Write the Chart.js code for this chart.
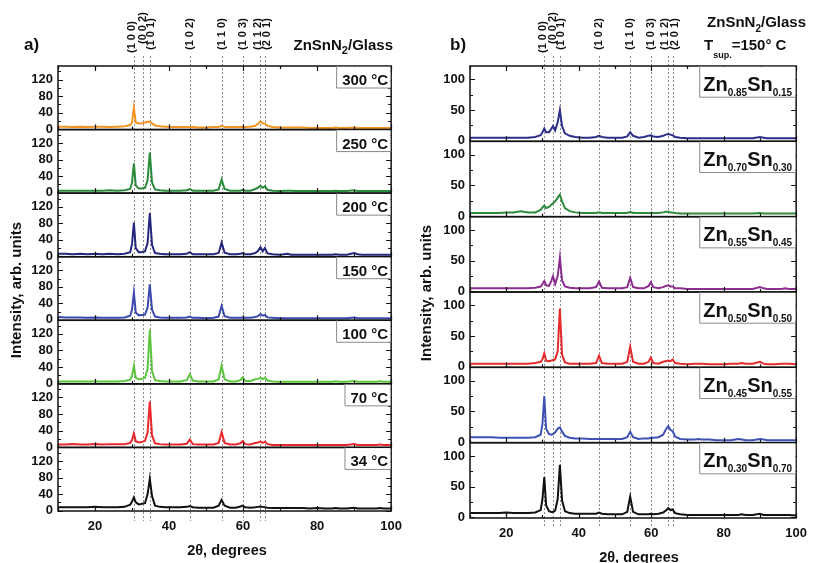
<!DOCTYPE html>
<html><head><meta charset="utf-8">
<script src="https://cdn.jsdelivr.net/npm/chart.js@4.4.1/dist/chart.umd.min.js"></script>
<style>
html,body{margin:0;padding:0;background:#fff;}
body{width:815px;height:563px;overflow:hidden;position:relative;}
#ca{position:absolute;left:0;top:0;}
#cb{position:absolute;left:410px;top:0;}
</style></head>
<body>
<canvas id="ca" width="410" height="563"></canvas>
<canvas id="cb" width="405" height="563"></canvas>
<script>
// ---------------- data ----------------
const twoTheta = [10,12,14,16,18,20,22,24,26,28, 29.5,30.0,30.5,31.0,31.8,32.5,32.9,33.5,34.2,34.8, 35.4,36.2,37.5,39,41,43,44.8,45.6,46.4,48, 50,52,53.4,54.2,55.0,56.5,58,59.3,59.9,60.6, 62,63.3,64.0,64.7,65.3,65.9,66.6,68,70,72, 73,74,76,78,80,82,84,85,86,88, 90,91,92,94,96,97,98,100];

// panel a) substrate temperature series (top to bottom)
const tempLabels = ['300 °C','250 °C','200 °C','150 °C','100 °C','70 °C','34 °C'];
const y300 = [6,6,5,6,5,6,6,5,6,7, 10,16,52,16,14,14,15,16,18,18, 14,9,7,6,5,5,5,5,5,4, 4,5,5,8,5,5,5,5,6,5, 6,8,13,19,14,14,8,5,4,4, 4,4,4,3,3,3,3,4,3,3, 4,3,3,3,3,3,3,3];
const y250 = [5,5,5,5,5,5,5,6,5,6, 9,25,71,18,10,10,11,12,30,97, 25,8,6,5,5,5,6,9,5,5, 5,5,8,32,9,5,5,5,7,5, 5,9,12,17,12,16,7,5,4,5, 5,4,4,4,4,4,4,5,4,4, 6,4,4,4,4,4,4,4];
const y200 = [6,6,5,6,5,6,5,6,5,6, 10,30,82,20,10,10,11,12,32,105, 28,8,6,5,5,5,6,10,5,5, 5,5,8,33,9,5,5,6,8,5, 5,8,13,22,12,20,7,5,4,6, 4,4,4,4,4,4,4,5,4,4, 8,5,4,4,4,4,4,4];
const y150 = [7,6,6,6,5,6,5,5,5,6, 10,25,66,18,11,12,12,13,30,86, 25,8,6,5,5,5,6,8,5,5, 4,5,8,34,9,5,5,5,6,5, 5,7,9,14,10,12,6,5,4,4, 4,4,4,4,4,4,4,4,4,4, 6,4,4,4,4,4,4,4];
const y100 = [5,5,5,5,5,5,5,5,5,6, 9,18,42,14,10,11,12,14,35,130, 30,8,6,5,5,5,8,22,7,5, 5,5,10,43,10,5,5,8,15,6, 6,10,11,14,10,14,7,5,4,4, 4,4,4,4,4,4,4,5,4,4, 6,4,4,4,4,5,4,4];
const y70  = [6,6,7,6,6,7,6,7,7,7, 10,17,33,14,11,12,13,15,35,110, 28,9,7,6,6,6,8,18,7,6, 6,6,10,36,10,6,6,9,14,7, 6,10,11,13,10,13,7,5,5,5, 5,5,5,5,5,5,5,5,5,5, 7,5,5,5,5,6,5,5];
const y34  = [8,8,8,8,8,9,8,8,8,9, 14,22,32,20,15,16,17,18,40,77, 35,12,9,8,8,8,9,11,8,7, 7,7,12,26,12,7,7,10,12,8, 7,8,9,10,9,8,7,6,6,6, 6,6,6,5,6,5,5,6,5,5, 7,5,5,5,5,6,5,5];

// panel b) composition series (top to bottom)
const znFrac = ['0.85','0.70','0.55','0.50','0.45','0.30'];
const snFrac = ['0.15','0.30','0.45','0.50','0.55','0.70'];
const yZn085 = [5,5,5,5,5,5,5,5,5,6, 9,14,20,14,14,20,24,17,30,50, 24,12,8,6,5,5,6,8,6,5, 5,5,7,14,8,5,6,8,9,7, 6,8,10,11,10,9,6,5,4,4, 4,4,4,4,4,4,4,4,4,4, 6,5,4,4,4,4,4,4];
const yZn070 = [5,5,5,5,5,6,6,8,6,6, 10,14,17,13,15,19,21,24,30,35, 24,13,8,6,5,5,5,6,5,5, 5,5,5,7,5,5,5,5,5,5, 5,6,7,7,6,6,5,4,4,4, 4,4,4,4,4,4,4,4,4,4, 5,4,4,4,4,4,4,4];
const yZn055 = [5,5,5,5,5,5,5,5,5,6, 8,12,17,10,9,18,25,12,25,55, 18,8,6,5,5,5,7,16,6,5, 5,5,7,22,7,5,5,9,15,7, 5,7,9,10,8,8,5,5,4,4, 4,4,4,4,4,4,4,4,4,4, 7,5,4,4,4,5,4,4];
const yZn050 = [5,5,5,5,5,5,5,5,5,6, 8,12,22,10,9,10,11,12,25,95, 20,7,5,5,5,5,6,18,6,5, 5,5,8,33,8,5,5,8,15,6, 5,8,9,10,9,12,6,5,4,5, 5,5,4,4,4,5,5,6,5,5, 8,5,4,4,5,5,5,4];
const yZn045 = [8,8,8,8,7,7,7,7,7,8, 12,30,75,22,13,12,13,16,22,24, 17,10,7,6,6,5,5,5,5,5, 5,5,8,17,8,5,6,6,7,7, 8,12,20,26,20,18,9,5,4,4, 5,4,4,3,3,3,5,4,3,3, 5,4,3,3,3,3,3,3];
const yZn030 = [7,7,7,7,7,8,7,7,7,8, 12,30,66,20,10,9,9,11,30,86, 28,10,7,6,6,6,6,8,6,5, 5,5,9,34,9,5,5,5,6,5, 6,8,11,15,12,13,7,5,4,4, 4,4,4,4,4,4,4,5,4,4, 6,4,4,4,4,4,4,3];

// reflections
const hklLabels = ['(1 0 0)','(0 0 2)','(1 0 1)','(1 0 2)','(1 1 0)','(1 0 3)','(1 1 2)','(2 0 1)'];
const hklPos    = [30.5, 32.9, 34.8, 45.6, 54.2, 59.9, 64.7, 65.9];

// ticks
const xTicks = [20,40,60,80,100];
const xMinor = [10,30,50,70,90];
const yTicksA = [0,40,80,120];
const yMinorA = [20,60,100,140];
const yTicksB = [0,50,100];
const yMinorB = [25,75];

// ---------------- styles ----------------
const FF = "'Liberation Sans', Arial, Helvetica, sans-serif";
const colorsA = ['#F39420','#2A8A3C','#25297E','#3A49AF','#5CC43E','#E8262B','#111111'];
const colorsB = ['#2B2F87','#2E8B3D','#8B2F8E','#E42A2A','#3E52B5','#111111'];
const hklShift = [-1.5, 0, 1.5, 0, 0, 0, -3, 2];   // label nudges (px) to avoid overlap

function rich(ctx, parts, x, y, align) {
  let w = 0;
  parts.forEach(p => { ctx.font = 'bold ' + p[1] + 'px ' + FF; w += ctx.measureText(p[0]).width; });
  let cx = align === 'right' ? x - w : (align === 'center' ? x - w / 2 : x);
  ctx.textAlign = 'left'; ctx.textBaseline = 'alphabetic';
  parts.forEach(p => {
    ctx.font = 'bold ' + p[1] + 'px ' + FF;
    ctx.fillText(p[0], cx, y + (p[2] || 0));
    cx += ctx.measureText(p[0]).width;
  });
  return w;
}
function richWidth(ctx, parts) {
  let w = 0;
  parts.forEach(p => { ctx.font = 'bold ' + p[1] + 'px ' + FF; w += ctx.measureText(p[0]).width; });
  return w;
}

function makePanel(canvasId, cfg) {
  const n = cfg.series.length;
  const scales = {
    x: {
      type: 'linear', min: 10, max: 100, position: 'bottom',
      afterBuildTicks: s => { s.ticks = xTicks.map(v => ({value: v})); },
      afterFit: s => { s.height = 30; },
      grid: {display: false, drawTicks: false}, border: {display: false},
      ticks: {font: {family: FF, size: 13, weight: 'bold'}, color: '#111', padding: cfg.xPad, maxRotation: 0, autoSkip: false}
    }
  };
  // define bottom subplot first so the top one is stacked at the top
  for (let i = n - 1; i >= 0; i--) {
    scales['y' + i] = {
      type: 'linear', position: 'left', stack: 'panel', stackWeight: 1,
      min: cfg.yMin, max: cfg.yMax, offset: false,
      afterBuildTicks: s => { s.ticks = cfg.yTicks.map(v => ({value: v})); },
      afterFit: s => { s.width = cfg.yWidth; },
      grid: {display: false, drawTicks: false}, border: {display: false},
      ticks: {font: {family: FF, size: 13, weight: 'bold'}, color: '#111', padding: 5, autoSkip: false}
    };
  }
  const datasets = cfg.series.map((vals, i) => ({
    data: twoTheta.map((x, k) => ({x: x, y: vals[k]})),
    yAxisID: 'y' + i, borderColor: cfg.colors[i], borderWidth: 2,
    pointRadius: 0, tension: 0, fill: false
  }));

  const plugin = {
    id: 'panelDeco',
    beforeDatasetsDraw(chart) {
      const ctx = chart.ctx, xs = chart.scales.x;
      ctx.save();
      ctx.strokeStyle = '#8c8c8c'; ctx.lineWidth = 1; ctx.setLineDash([2, 2]);
      hklPos.forEach(p => {
        const px = Math.round(xs.getPixelForValue(p)) + 0.5;
        ctx.beginPath(); ctx.moveTo(px, cfg.dashTop); ctx.lineTo(px, cfg.dashBottom); ctx.stroke();
      });
      ctx.restore();
    },
    afterDraw(chart) {
      const ctx = chart.ctx, xs = chart.scales.x, ca = chart.chartArea;
      ctx.save();
      ctx.fillStyle = '#111';
      // frames + ticks
      for (let i = 0; i < n; i++) {
        const ys = chart.scales['y' + i];
        const top = ys.top, bot = ys.bottom;
        ctx.strokeStyle = '#111'; ctx.lineWidth = 1.5; ctx.setLineDash([]);
        ctx.strokeRect(ca.left, top, ca.right - ca.left, bot - top);
        ctx.lineWidth = 1.2;
        const yt = (vals, len) => vals.forEach(v => {
          const py = Math.round(ys.getPixelForValue(v)) + 0.5;
          ctx.beginPath(); ctx.moveTo(ca.left, py); ctx.lineTo(ca.left + len, py);
          ctx.moveTo(ca.right, py); ctx.lineTo(ca.right - len, py); ctx.stroke();
        });
        yt(cfg.yTicks, 5); yt(cfg.yMinor, 3);
        const xt = (vals, len) => vals.forEach(v => {
          const px = Math.round(xs.getPixelForValue(v)) + 0.5;
          ctx.beginPath(); ctx.moveTo(px, bot); ctx.lineTo(px, bot - len);
          if (i === 0) { ctx.moveTo(px, top); ctx.lineTo(px, top + len); }
          ctx.stroke();
        });
        xt(xTicks, 5); xt(xMinor, 3);
      }
      // label boxes
      for (let i = 0; i < n; i++) {
        const ys = chart.scales['y' + i];
        const parts = cfg.boxParts(i);
        const w = richWidth(ctx, parts);
        const right = ca.right, left = right - cfg.boxPadR - w - cfg.boxPadL;
        const top = ys.top, bottom = top + cfg.boxH;
        ctx.fillStyle = '#fff';
        ctx.fillRect(left, top + 0.8, right - left - 0.8, bottom - top - 0.8);
        ctx.strokeStyle = '#8a8a8a'; ctx.lineWidth = 1;
        ctx.beginPath(); ctx.moveTo(left + 0.5, top); ctx.lineTo(left + 0.5, bottom + 0.5); ctx.lineTo(right, bottom + 0.5); ctx.stroke();
        ctx.fillStyle = '#111';
        rich(ctx, parts, left + cfg.boxPadL, top + cfg.boxBase, 'left');
      }
      // hkl labels
      ctx.fillStyle = '#111';
      ctx.font = 'bold 11px ' + FF;
      hklPos.forEach((p, k) => {
        const px = xs.getPixelForValue(p) + hklShift[k];
        ctx.save();
        ctx.translate(px, cfg.hklBottom[k]);
        ctx.rotate(-Math.PI / 2);
        ctx.textAlign = 'left'; ctx.textBaseline = 'middle';
        ctx.fillText(hklLabels[k], 0, 0);
        ctx.restore();
      });
      // y title
      ctx.save();
      ctx.font = 'bold 15px ' + FF; ctx.fillStyle = '#111';
      ctx.translate(cfg.yTitleX, cfg.yTitleY); ctx.rotate(-Math.PI / 2);
      ctx.textAlign = 'center'; ctx.textBaseline = 'middle';
      ctx.fillText('Intensity, arb. units', 0, 0);
      ctx.restore();
      // x title
      ctx.fillStyle = '#111';
      rich(ctx, [['2θ, degrees', 14.5, 0]], cfg.xTitleX, cfg.xTitleY, 'center');
      // headers
      cfg.headers(ctx);
      ctx.restore();
    }
  };

  return new Chart(document.getElementById(canvasId), {
    type: 'line',
    data: {datasets},
    options: {
      responsive: false, animation: false, devicePixelRatio: 1,
      layout: {padding: cfg.padding},
      plugins: {legend: {display: false}, tooltip: {enabled: false}},
      scales
    },
    plugins: [plugin]
  });
}

// panel a)
makePanel('ca', {
  series: [y300, y250, y200, y150, y100, y70, y34],
  colors: colorsA,
  yMin: -1, yMax: 153, yTicks: yTicksA, yMinor: yMinorA, yWidth: 58,
  padding: {left: 0, top: 66, right: 17, bottom: 22},
  xPad: 8,
  dashTop: 56, dashBottom: 521,
  hklBottom: [53, 44, 50, 50, 50, 50, 50, 50],
  boxParts: i => [[tempLabels[i], 15, 0]],
  boxPadL: 6, boxPadR: 3, boxH: 21.5, boxBase: 19,
  yTitleX: 17, yTitleY: 290,
  xTitleX: 227, xTitleY: 555,
  headers: ctx => {
    ctx.fillStyle = '#111';
    rich(ctx, [['a)', 17, 0]], 24, 50, 'left');
    rich(ctx, [['ZnSnN', 15, 0], ['2', 11, 4], ['/Glass', 15, 0]], 393, 50, 'right');
  }
});

// panel b)
makePanel('cb', {
  series: [yZn085, yZn070, yZn055, yZn050, yZn045, yZn030],
  colors: colorsB,
  yMin: -1, yMax: 122, yTicks: yTicksB, yMinor: yMinorB, yWidth: 60,
  padding: {left: 0, top: 66, right: 9, bottom: 15},
  xPad: 8,
  dashTop: 56, dashBottom: 528,
  hklBottom: [53, 44, 50, 50, 50, 50, 50, 50],
  boxParts: i => [['Zn', 20, 0], [znFrac[i], 10, 5], ['Sn', 20, 0], [snFrac[i], 10, 5]],
  boxPadL: 4, boxPadR: 4, boxH: 30.7, boxBase: 24.5,
  yTitleX: 17, yTitleY: 293,
  xTitleX: 229, xTitleY: 562,
  headers: ctx => {
    ctx.fillStyle = '#111';
    rich(ctx, [['b)', 17, 0]], 40, 50, 'left');
    rich(ctx, [['ZnSnN', 15, 0], ['2', 10, 5], ['/Glass', 15, 0]], 396, 27, 'right');
    rich(ctx, [['T', 15, 0], ['sup.', 9, 8], ['=150° C', 15, 0]], 294, 50, 'left');
  }
});
</script>
</body></html>
